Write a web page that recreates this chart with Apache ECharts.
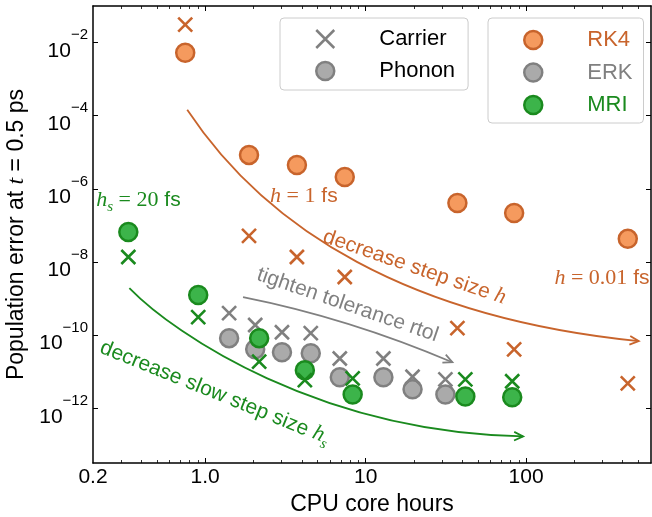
<!DOCTYPE html>
<html><head><meta charset="utf-8">
<script src="https://cdn.jsdelivr.net/npm/echarts@6/dist/echarts.min.js"></script>
<style>html,body{margin:0;padding:0;background:#fff}#c{width:652px;height:517px}</style>
</head><body><div id="c"></div>
<script>
// ---------------- data ----------------
const rk4Hours   = [0.751, 1.876, 3.73, 7.41, 37.3, 84.2, 430];
const rk4Phonon  = [5.3e-3, 8.5e-6, 4.5e-6, 2.1e-6, 4.1e-7, 2.2e-7, 4.3e-8];
const rk4Carrier = [3.1e-2, 5.2e-8, 1.37e-8, 3.9e-9, 1.56e-10, 4.1e-11, 4.8e-12];

const erkHours   = [1.41, 2.05, 3.01, 4.55, 6.90, 12.9, 19.6, 31.4];
const erkPhonon  = [8.3e-11, 4.1e-11, 3.4e-11, 3.2e-11, 7.1e-12, 7.1e-12, 3.3e-12, 2.4e-12];
const erkCarrier = [4.0e-10, 1.9e-10, 1.2e-10, 1.14e-10, 2.3e-11, 2.3e-11, 7.3e-12, 6.2e-12];

const mriHours   = [0.332, 0.905, 2.17, 4.18, 8.30, 41.8, 81.9];
const mriPhonon  = [6.6e-8, 1.25e-9, 8.3e-11, 1.1e-11, 2.4e-12, 2.1e-12, 2.0e-12];
const mriCarrier = [1.37e-8, 3.1e-10, 1.9e-11, 5.9e-12, 6.6e-12, 6.2e-12, 5.5e-12];

// axis limits and ticks
const xLimits = [0.2, 600];
const yLimits = [3.2e-14, 0.1];
const xMajorTicks = [1, 10, 100];
const xMinorTicks = [0.3,0.4,0.5,0.6,0.7,0.8,0.9, 2,3,4,5,6,7,8,9, 20,30,40,50,60,70,80,90, 200,300,400,500];
const xTickValues = [0.2, 1, 10, 100];
const xTickLabels = ['0.2', '1.0', '10', '100'];
const yTickValues = [1e-12, 1e-10, 1e-8, 1e-6, 1e-4, 1e-2];

// annotation arrows: Bezier start, control point(s), end (data space)
const orangeCurve = [[0.773,1.46e-4],[2.427,7.53e-8],[18.76,2.92e-10],[503.5,6.86e-11]];
const grayCurve   = [[1.722,1.10e-9],[7.84,2.92e-10],[34.7,1.82e-11]];
const greenCurve  = [[0.337,1.94e-9],[0.651,1.0e-10],[5.18,2.2e-13],[95.8,1.71e-13]];

// ---------------- styling ----------------
const L = Math.log10;
const FONT = 'Liberation Sans';
const SERIF = 'Liberation Serif';
const ORANGE = '#C8642C', ORANGE_FILL = '#F59A5E';
const GRAY = '#808080', GRAY_FILL = '#AAAAAA';
const GREEN = '#1A8A1E', GREEN_FILL = '#3CB44A';
const CROSS = 'path://M0,0L10,10M10,0L0,10';

const pts = (xs, ys) => xs.map((x, i) => [L(x), L(ys[i])]);

function circleSeries(name, data, fill, edge) {
  return {type:'scatter', name, data, symbol:'circle', symbolSize:18, z:3, silent:true,
    itemStyle:{color:fill, borderColor:edge, borderWidth:2.5, opacity:1}};
}
function crossSeries(name, data, color) {
  return {type:'scatter', name, data, symbol:CROSS, symbolSize:14, z:3, silent:true,
    itemStyle:{color:'rgba(0,0,0,0)', borderColor:color, borderWidth:2.6, opacity:1}};
}

const annoCurves = [
  {pts: orangeCurve, color: ORANGE},
  {pts: grayCurve, color: GRAY},
  {pts: greenCurve, color: GREEN}
];
const annoTexts = [
  {text:'{m|h}{s|s}{r| = 20} {t|fs}', at:[0.384, 4.4e-7], angle:0, color:GREEN, sub:true},
  {text:'{m|h}{r| = 1} {t|fs}', at:[4.12, 6.43e-7], angle:0, color:ORANGE},
  {text:'{m|h}{r| = 0.01} {t|fs}', at:[297, 3.65e-9], angle:0, color:ORANGE},
  {text:'{t|decrease step size }{m|h}', at:[20.2, 7.3e-9], angle:19, color:ORANGE},
  {text:'{t|tighten tolerance rtol}', at:[7.73, 6.64e-10], angle:19, color:GRAY},
  {text:'{t|decrease slow step size }{m|h}{s|s}', at:[1.14, 2.42e-12], angle:22, color:GREEN, sub:true}
];
function richFor(color, sub) {
  const pb = sub ? 4 : 0;
  return {
    t:{fontSize:21, fontFamily:FONT, fill:color, padding:[0,0,pb,0], verticalAlign:'bottom'},
    m:{fontSize:22, fontFamily:SERIF, fontStyle:'italic', fill:color, padding:[0,0,pb,0], verticalAlign:'bottom'},
    r:{fontSize:22, fontFamily:SERIF, fill:color, padding:[0,0,pb,0], verticalAlign:'bottom'},
    s:{fontSize:15, fontFamily:SERIF, fontStyle:'italic', fill:color, verticalAlign:'bottom'}
  };
}

const annotationSeries = {
  type:'custom', coordinateSystem:'cartesian2d', xAxisIndex:0, yAxisIndex:0, silent:true, z:1,
  data:[[0, -5]],
  renderItem: function (params, api) {
    const kids = [];
    annoCurves.forEach(c => {
      const p = c.pts.map(q => api.coord([L(q[0]), L(q[1])]));
      const a = p[p.length-1], b = p[p.length-2];
      const shape = {x1:p[0][0], y1:p[0][1], x2:a[0], y2:a[1], cpx1:p[1][0], cpy1:p[1][1]};
      if (p.length === 4) { shape.cpx2 = p[2][0]; shape.cpy2 = p[2][1]; }
      kids.push({type:'bezierCurve', shape, style:{stroke:c.color, lineWidth:1.8, fill:null}});
      const t = Math.atan2(a[1]-b[1], a[0]-b[0]);
      const len = 10, sp = 0.45;
      kids.push({type:'polyline', shape:{points:[
        [a[0]-len*Math.cos(t-sp), a[1]-len*Math.sin(t-sp)], a,
        [a[0]-len*Math.cos(t+sp), a[1]-len*Math.sin(t+sp)]]},
        style:{stroke:c.color, lineWidth:1.8, fill:null}});
    });
    annoTexts.forEach(s => {
      const p = api.coord([L(s.at[0]), L(s.at[1])]);
      kids.push({type:'text', x:p[0], y:p[1], rotation:-s.angle*Math.PI/180,
        style:{text:s.text, rich:richFor(s.color, s.sub), fill:s.color, fontSize:21, fontFamily:FONT,
          align:'center', verticalAlign:'middle'}});
    });
    return {type:'group', children:kids};
  }
};

const axisLineStyle = {show:true, onZero:false, lineStyle:{color:'#000', width:1.5}};
const xBase = {type:'value', min:L(xLimits[0]), max:L(xLimits[1]), splitLine:{show:false}, axisLine:axisLineStyle};
const yBase = {type:'value', min:L(yLimits[0]), max:L(yLimits[1]), splitLine:{show:false}, axisLine:axisLineStyle};
const majorTickX = {show:true, inside:true, length:5, customValues:xMajorTicks.map(L), lineStyle:{color:'#000', width:1}};
const minorTickX = {show:true, inside:true, length:3, customValues:xMinorTicks.map(L), lineStyle:{color:'#000', width:0.8}};
const tickY = {show:true, inside:true, length:5, customValues:yTickValues.map(L), lineStyle:{color:'#000', width:1}};

const legendText = {fontSize:22, fontFamily:FONT, color:'#000', rich:{g:{width:40, fontSize:22, fontFamily:FONT}}};
const legendFormatter = name => '{g| }' + name;

const option = {
  animation:false,
  backgroundColor:'#fff',
  grid:{left:93, right:1, top:6, bottom:54, containLabel:false, outerBoundsMode:'none'},
  legend:[
    {orient:'vertical', left:280, top:18, selectedMode:false,
     itemWidth:18, itemHeight:18, itemGap:10, padding:[10,13,8,35],
     backgroundColor:'rgba(255,255,255,0.8)', borderColor:'#cccccc', borderWidth:1, borderRadius:4,
     textStyle:legendText, formatter:legendFormatter,
     data:[
       {name:'Carrier', icon:CROSS, itemStyle:{color:'rgba(0,0,0,0)', borderColor:GRAY, borderWidth:2.5, opacity:1}},
       {name:'Phonon', icon:'circle', itemStyle:{color:GRAY_FILL, borderColor:GRAY, borderWidth:2.5, opacity:1}}
     ]},
    {orient:'vertical', left:488, top:18, selectedMode:false,
     itemWidth:18, itemHeight:18, itemGap:10.5, padding:[11,11,7,35],
     backgroundColor:'rgba(255,255,255,0.8)', borderColor:'#cccccc', borderWidth:1, borderRadius:4,
     textStyle:legendText, formatter:legendFormatter,
     data:[
       {name:'RK4', icon:'circle', itemStyle:{color:ORANGE_FILL, borderColor:ORANGE, borderWidth:2.5, opacity:1}, textStyle:{color:ORANGE}},
       {name:'ERK', icon:'circle', itemStyle:{color:GRAY_FILL, borderColor:GRAY, borderWidth:2.5, opacity:1}, textStyle:{color:GRAY}},
       {name:'MRI', icon:'circle', itemStyle:{color:GREEN_FILL, borderColor:GREEN, borderWidth:2.5, opacity:1}, textStyle:{color:GREEN}}
     ]}
  ],
  xAxis:[
    Object.assign({}, xBase, {position:'bottom', axisTick:majorTickX,
      axisLabel:{show:true, customValues:xTickValues.map(L), margin:4, fontSize:21, fontFamily:FONT, color:'#000',
        formatter: v => { const i = xTickValues.findIndex(t => Math.abs(L(t) - v) < 1e-6); return i >= 0 ? xTickLabels[i] : ''; }},
      name:'CPU core hours', nameLocation:'middle', nameGap:27,
      nameTextStyle:{fontSize:23, fontFamily:FONT, color:'#000'}}),
    Object.assign({}, xBase, {position:'top', axisTick:majorTickX, axisLabel:{show:false}}),
    Object.assign({}, xBase, {position:'bottom', axisLine:{show:false}, axisTick:minorTickX, axisLabel:{show:false}}),
    Object.assign({}, xBase, {position:'top', axisLine:{show:false}, axisTick:minorTickX, axisLabel:{show:false}})
  ],
  yAxis:[
    Object.assign({}, yBase, {position:'left', axisTick:tickY,
      axisLabel:{show:true, customValues:yTickValues.map(L), margin:5, padding:[4,0,0,0],
        formatter: v => '{b|10}{s|\u2212' + Math.round(-v) + '}',
        rich:{
          b:{fontSize:21, fontFamily:FONT, color:'#000', verticalAlign:'top', padding:[13,0,0,0]},
          s:{fontSize:15, fontFamily:FONT, color:'#000', verticalAlign:'top', padding:[0,0,0,0]}
        }},
      name:'Population error at {it|t} = 0.5 ps', nameLocation:'middle', nameGap:58, nameRotate:90,
      nameTextStyle:{fontSize:23, fontFamily:FONT, color:'#000',
        rich:{it:{fontSize:24, fontFamily:SERIF, fontStyle:'italic', color:'#000'}}}}),
    Object.assign({}, yBase, {position:'right', axisTick:tickY, axisLabel:{show:false}})
  ],
  series:[
    annotationSeries,
    circleSeries('RK4 phonon', pts(rk4Hours, rk4Phonon), ORANGE_FILL, ORANGE),
    crossSeries('RK4 carrier', pts(rk4Hours, rk4Carrier), ORANGE),
    circleSeries('ERK phonon', pts(erkHours, erkPhonon), GRAY_FILL, GRAY),
    crossSeries('ERK carrier', pts(erkHours, erkCarrier), GRAY),
    circleSeries('MRI phonon', pts(mriHours, mriPhonon), GREEN_FILL, GREEN),
    crossSeries('MRI carrier', pts(mriHours, mriCarrier), GREEN),
    // legend entries
    {type:'scatter', name:'Carrier', data:[], symbol:CROSS, itemStyle:{color:'rgba(0,0,0,0)', borderColor:GRAY, borderWidth:2.5}},
    {type:'scatter', name:'Phonon', data:[], symbol:'circle', itemStyle:{color:GRAY_FILL, borderColor:GRAY, borderWidth:2.5}},
    {type:'scatter', name:'RK4', data:[], symbol:'circle', itemStyle:{color:ORANGE_FILL, borderColor:ORANGE, borderWidth:2.5}},
    {type:'scatter', name:'ERK', data:[], symbol:'circle', itemStyle:{color:GRAY_FILL, borderColor:GRAY, borderWidth:2.5}},
    {type:'scatter', name:'MRI', data:[], symbol:'circle', itemStyle:{color:GREEN_FILL, borderColor:GREEN, borderWidth:2.5}}
  ]
};

const chart = echarts.init(document.getElementById('c'), null, {renderer:'canvas'});
chart.setOption(option);
</script>
</body></html>
